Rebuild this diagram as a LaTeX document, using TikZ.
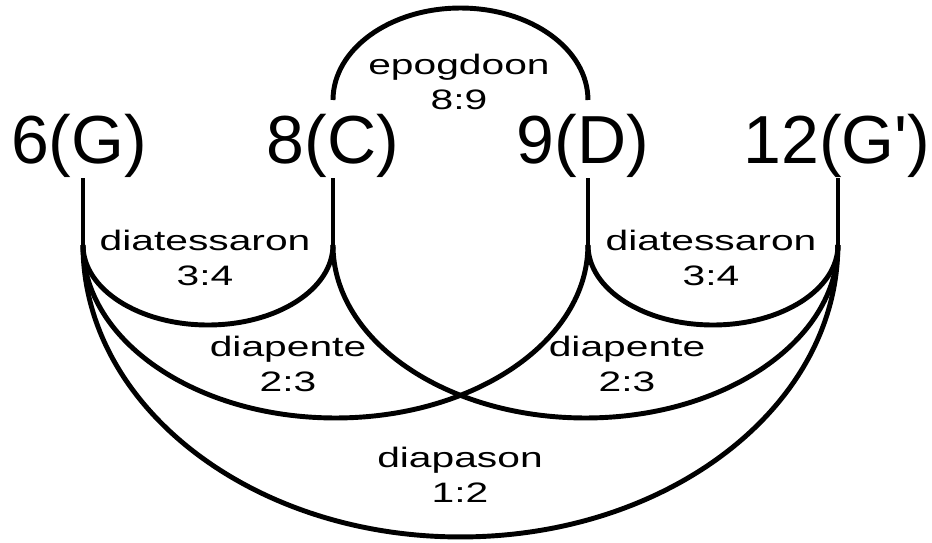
\documentclass[tikz,border=0pt]{standalone}
\usepackage{fontspec}
\newfontfamily\notefont{Liberation Sans}
\newfontfamily\ratiofont[FakeStretch=1.45]{Liberation Sans}

\begin{document}
\begin{tikzpicture}[x=0.02cm, y=0.02cm,
    note/.style={font=\notefont\fontsize{38.7pt}{40pt}\selectfont, inner sep=0pt},
    ratio/.style={font=\ratiofont\fontsize{16pt}{19.9pt}\selectfont,
                  align=center, inner sep=0pt},
    line/.style={draw=black, line width=2.8pt}]
  \useasboundingbox (0,0) rectangle (932,-542);
  % the four notes
  \node[note] (nG)  at (79,-146)  {6(G)};
  \node[note] (nC)  at (333,-146) {8(C)};
  \node[note] (nD)  at (583,-146) {9(D)};
  \node[note] (nGG) at (837,-146) {12(G')};
  \coordinate (g)  at (83,-245);
  \coordinate (c)  at (333,-245);
  \coordinate (d)  at (588,-245);
  \coordinate (gg) at (838,-245);
  \coordinate (ct) at (333,-100);
  \draw[line] (nG.south -| g)   -- (g);
  \draw[line] (nC.south -| c)   -- (c);
  \draw[line] (nD.south -| d)   -- (d);
  \draw[line] (nGG.south -| gg) -- (gg);
  % epogdoon above
  \draw[line] (ct) arc[start angle=180, end angle=0, x radius=2.55cm, y radius=1.84cm];
  % arcs below
  \draw[line] (g) arc[start angle=180, end angle=360, x radius=2.5cm,  y radius=1.6cm];
  \draw[line] (d) arc[start angle=180, end angle=360, x radius=2.5cm,  y radius=1.6cm];
  \draw[line] (g) arc[start angle=180, end angle=360, x radius=5.05cm, y radius=3.46cm];
  \draw[line] (c) arc[start angle=180, end angle=360, x radius=5.05cm, y radius=3.46cm];
  \draw[line] (g) arc[start angle=180, end angle=360, x radius=7.55cm, y radius=5.84cm];
  % interval names
  \node[ratio] (epo) at (459,-82)  {epogdoon\\8:9};
  \node[ratio] (dtl) at (205,-258) {diatessaron\\3:4};
  \node[ratio] (dtr) at (711,-258) {diatessaron\\3:4};
  \node[ratio] (dpl) at (288,-364) {diapente\\2:3};
  \node[ratio] (dpr) at (627,-364) {diapente\\2:3};
  \node[ratio] (dps) at (460,-475) {diapason\\1:2};
\end{tikzpicture}
\end{document}
